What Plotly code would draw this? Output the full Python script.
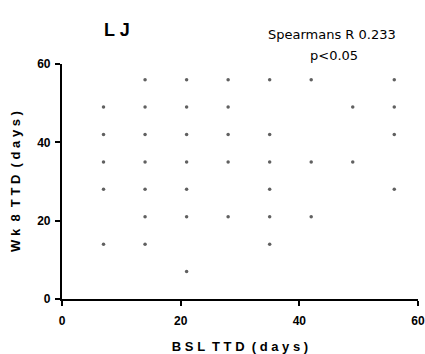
import plotly.graph_objects as go

# Data: BSL TTD (x) vs Wk 8 TTD (y), in days
bsl_ttd = [14, 21, 28, 35, 42, 56,
           7, 14, 21, 28, 49, 56,
           7, 14, 21, 28, 35, 56,
           7, 14, 21, 28, 35, 42, 49,
           7, 14, 21, 35, 56,
           14, 21, 28, 35, 42,
           7, 14, 35,
           21]
wk8_ttd = [56, 56, 56, 56, 56, 56,
           49, 49, 49, 49, 49, 49,
           42, 42, 42, 42, 42, 42,
           35, 35, 35, 35, 35, 35, 35,
           28, 28, 28, 28, 28,
           21, 21, 21, 21, 21,
           14, 14, 14,
           7]
tick_vals = [0, 20, 40, 60]

fig = go.Figure()
fig.add_trace(go.Scatter(
    x=bsl_ttd, y=wk8_ttd, mode="markers",
    marker=dict(size=3.5, color="#606060"),
    showlegend=False, hoverinfo="skip"))

axis_common = dict(
    range=[0, 60], tickvals=tick_vals, ticks="outside", ticklen=5, tickwidth=2,
    tickcolor="black", showline=True, linewidth=2.2, linecolor="black",
    showgrid=False, zeroline=False, automargin=False,
    tickfont=dict(family="Liberation Sans", size=12, color="black", weight="bold"),
)

fig.update_xaxes(**axis_common, ticklabelstandoff=4,
                 title=dict(text="B S L  T T D  ( d a y s )", standoff=18,
                            font=dict(family="Liberation Sans", size=13, color="black", weight="bold")))
fig.update_yaxes(**axis_common, ticklabelstandoff=2,
                 title=dict(text="W k  8  T T D  ( d a y s )", standoff=14,
                            font=dict(family="Liberation Sans", size=13, color="black", weight="bold")))

ann = dict(xref="paper", yref="paper", showarrow=False, xanchor="center", yanchor="middle")
fig.add_annotation(text="<b>L J</b>", x=(117 - 62) / 356, y=(299 - 30) / 235,
                   font=dict(family="Liberation Sans", size=18, color="black"), **ann)
fig.add_annotation(text="Spearmans R 0.233", x=(332 - 62) / 356, y=(299 - 34) / 235,
                   font=dict(family="DejaVu Sans", size=13, color="black"), **ann)
fig.add_annotation(text="p<0.05", x=(334 - 62) / 356, y=(299 - 56) / 235,
                   font=dict(family="DejaVu Sans", size=13, color="black"), **ann)

fig.update_layout(
    width=425, height=354,
    margin=dict(l=62, r=7, t=64, b=55),
    plot_bgcolor="white", paper_bgcolor="white",
)

fig.write_html("out.html", config={"displayModeBar": False},
               post_script="document.body.style.margin='0';")
